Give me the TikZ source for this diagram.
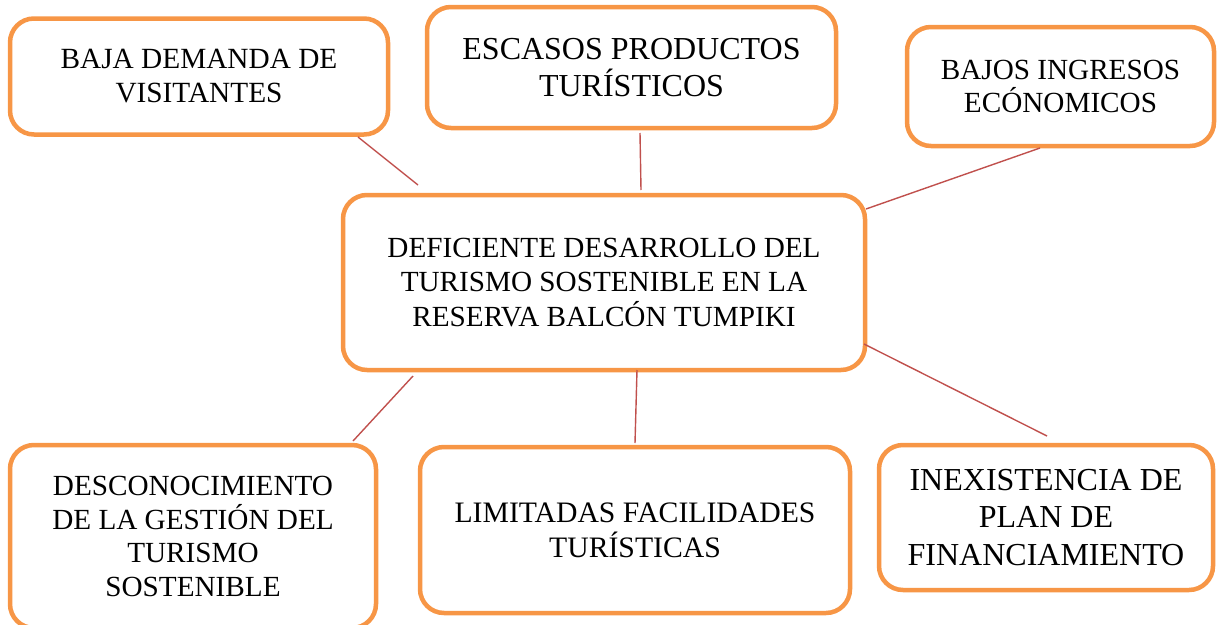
\documentclass[tikz,border=0pt]{standalone}
\usepackage{fontspec}
\setmainfont{Liberation Serif}
\definecolor{boxorange}{HTML}{F79646}
\definecolor{linkred}{HTML}{C0504D}
\begin{document}
\begin{tikzpicture}[x=1pt,y=-1pt,
  box/.style={draw=boxorange,line width=4.5pt,rounded corners=24pt,fill=white,
    inner sep=0pt,align=center,font=\fontsize{29.3}{34}\selectfont},
  bigtext/.style={font=\fontsize{32}{37.5}\selectfont},
  link/.style={draw=linkred,line width=1.4pt}]
\useasboundingbox (0,0) rectangle (1217,624);
\node[box,minimum width=378,minimum height=116] (baja) at (199,76.5) {BAJA DEMANDA DE\\VISITANTES};
\node[box,bigtext,minimum width=409,minimum height=121] (esc) at (631.5,67.5) {ESCASOS PRODUCTOS\\TURÍSTICOS};
\node[box,minimum width=307,minimum height=119,font=\fontsize{29.2}{33}\selectfont] (bajos) at (1060.5,86.5) {BAJOS INGRESOS\\ECÓNOMICOS};
\node[box,minimum width=522,minimum height=175,font=\fontsize{29.2}{34.5}\selectfont] (main) at (604,282.5) {DEFICIENTE DESARROLLO DEL\\TURISMO SOSTENIBLE EN LA\\RESERVA BALCÓN TUMPIKI};
\node[box,minimum width=366,minimum height=183,font=\fontsize{29.2}{33.7}\selectfont] (desc) at (193,536.5) {DESCONOCIMIENTO\\DE LA GESTIÓN DEL\\TURISMO\\SOSTENIBLE};
\node[box,minimum width=430,minimum height=166,font=\fontsize{29.7}{35}\selectfont] (lim) at (635,530) {LIMITADAS FACILIDADES\\TURÍSTICAS};
\node[box,bigtext,minimum width=334,minimum height=145] (inex) at (1046,517.5) {INEXISTENCIA DE\\PLAN DE\\FINANCIAMIENTO};
\coordinate (bajaE) at (358,137);
\coordinate (mainBaja) at (418,185);
\coordinate (escE) at (640,133);
\coordinate (mainEsc) at (641,190);
\coordinate (bajosE) at (1040,148);
\coordinate (mainBajos) at (866,209);
\coordinate (mainDesc) at (413,376);
\coordinate (descE) at (353,441);
\coordinate (mainLim) at (637,370);
\coordinate (limE) at (635,443);
\coordinate (mainInex) at (864,344);
\coordinate (inexE) at (1047,436);
\draw[link] (bajaE) -- (mainBaja);
\draw[link] (escE) -- (mainEsc);
\draw[link] (bajosE) -- (mainBajos);
\draw[link] (mainDesc) -- (descE);
\draw[link] (mainLim) -- (limE);
\draw[link] (mainInex) -- (inexE);
\end{tikzpicture}
\end{document}
